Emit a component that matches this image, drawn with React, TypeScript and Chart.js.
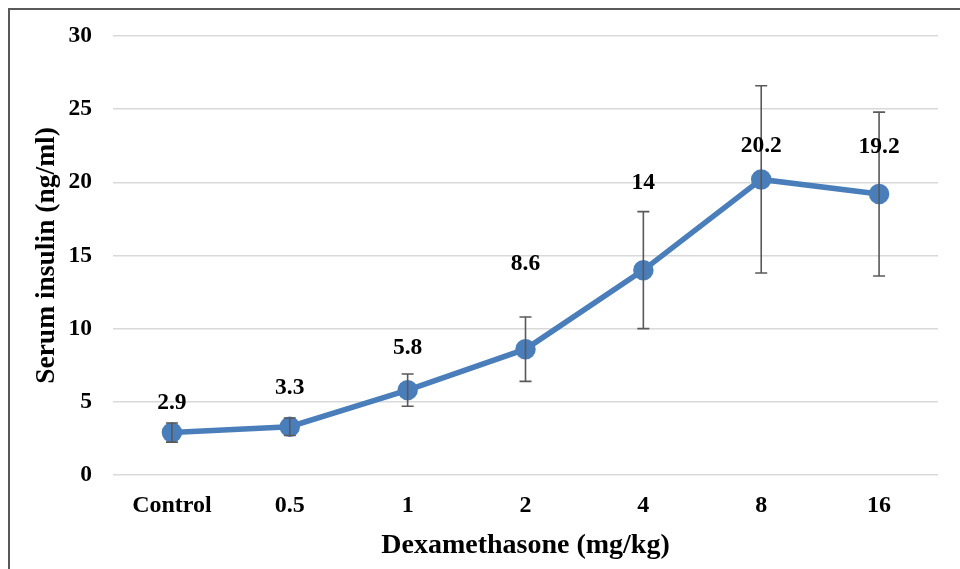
import React, { useEffect, useRef } from "react";
import { Chart, registerables } from "chart.js";

Chart.register(...registerables);

const categories = ["Control", "0.5", "1", "2", "4", "8", "16"];
const insulin = [2.9, 3.3, 5.8, 8.6, 14, 20.2, 19.2];
const errors = [0.65, 0.6, 1.1, 2.2, 4, 6.4, 5.6];
const yTicks = [0, 5, 10, 15, 20, 25, 30];

const FONT = "'Liberation Serif', 'Times New Roman', serif";
const LINE_BLUE = "#4a7ebb";
const ERR_GRAY = "#595959";

const labelOffsets = [30, 39, 42, 85, 87, 33, 47];

const errorBarPlugin = {
  id: "errorBars",
  afterDatasetsDraw(chart: any) {
    const ctx = chart.ctx;
    const meta = chart.getDatasetMeta(0);
    const yScale = chart.scales.y;
    ctx.save();
    ctx.strokeStyle = ERR_GRAY;
    ctx.lineWidth = 1.6;
    meta.data.forEach((pt: any, i: number) => {
      const x = pt.x;
      const yTop = yScale.getPixelForValue(insulin[i] + errors[i]);
      const yBot = yScale.getPixelForValue(insulin[i] - errors[i]);
      const cap = 6;
      ctx.beginPath();
      ctx.moveTo(x, yTop);
      ctx.lineTo(x, yBot);
      ctx.moveTo(x - cap, yTop);
      ctx.lineTo(x + cap, yTop);
      ctx.moveTo(x - cap, yBot);
      ctx.lineTo(x + cap, yBot);
      ctx.stroke();
    });
    ctx.fillStyle = "#000";
    ctx.font = `bold 23.5px ${FONT}`;
    ctx.textAlign = "center";
    ctx.textBaseline = "middle";
    meta.data.forEach((pt: any, i: number) => {
      ctx.fillText(String(insulin[i]), pt.x, pt.y - labelOffsets[i]);
    });
    ctx.restore();
  },
};

export default function App() {
  const ref = useRef<HTMLCanvasElement | null>(null);
  useEffect(() => {
    if (!ref.current) return;
    const chart = new Chart(ref.current, {
      type: "line",
      data: {
        labels: categories,
        datasets: [
          {
            data: insulin,
            borderColor: LINE_BLUE,
            backgroundColor: LINE_BLUE,
            borderWidth: 5.5,
            pointRadius: 7.5,
            pointHoverRadius: 7.5,
            pointBackgroundColor: LINE_BLUE,
            pointBorderColor: LINE_BLUE,
            tension: 0,
          },
        ],
      },
      options: {
        responsive: false,
        animation: false,
        layout: { padding: { top: 26, right: 22, left: 0, bottom: 0 } },
        plugins: { legend: { display: false }, tooltip: { enabled: false } },
        scales: {
          x: {
            offset: true,
            grid: { display: false },
            border: { display: false },
            ticks: {
              color: "#000",
              font: { family: FONT, size: 24, weight: "bold" },
              padding: 8,
              maxRotation: 0,
            },
            title: {
              display: true,
              text: "Dexamethasone (mg/kg)",
              color: "#000",
              font: { family: FONT, size: 28, weight: "bold" },
              padding: { top: 0, bottom: 6 },
            },
            afterFit(scale: any) {
              scale.height = 94;
              scale.paddingLeft = 0;
              scale.paddingRight = 0;
            },
          },
          y: {
            min: 0,
            max: 30,
            afterBuildTicks(scale: any) {
              scale.ticks = yTicks.map((v) => ({ value: v }));
            },
            grid: { color: "#d9d9d9", lineWidth: 1.5, drawTicks: false },
            border: { display: false },
            ticks: {
              color: "#000",
              font: { family: FONT, size: 23.5, weight: "bold" },
              padding: 21,
            },
            title: {
              display: true,
              text: "Serum insulin (ng/ml)",
              color: "#000",
              font: { family: FONT, size: 27.5, weight: "bold" },
              padding: { top: 20, bottom: 0 },
            },
            afterFit(scale: any) {
              scale.width = 103;
              scale.paddingTop = 0;
              scale.paddingBottom = 0;
            },
          },
        },
      },
      plugins: [errorBarPlugin],
    });
    return () => chart.destroy();
  }, []);
  return (
    <div
      style={{
        position: "fixed",
        left: 8,
        top: 8,
        right: 0,
        bottom: 0,
        borderTop: "2px solid #595959",
        borderLeft: "2px solid #595959",
        overflow: "hidden",
      }}
    >
      <canvas ref={ref} width={950} height={559} style={{ display: "block" }} />
    </div>
  );
}
